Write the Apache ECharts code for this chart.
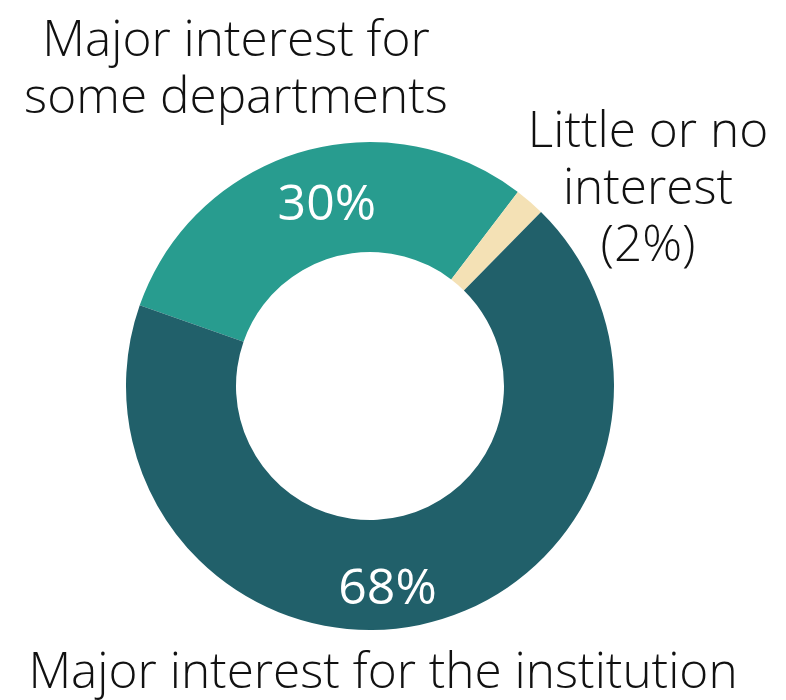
<!DOCTYPE html>
<html>
<head>
<meta charset="utf-8">
<script src="https://cdn.jsdelivr.net/npm/echarts@6/dist/echarts.min.js"></script>
<style>
  html, body { margin: 0; padding: 0; background: #ffffff; }
  #chart { width: 786px; height: 700px; }
</style>
</head>
<body>
<div id="chart"></div>
<script>
// Data
const categories = [
  'Major interest for\nsome departments',
  'Little or no\ninterest\n(2%)',
  'Major interest for the institution'
]
const shares = [30, 2, 68]
const pctLabels = ['30%', '', '68%']

// Colours
const COLORS = ['#289c8f', '#f4e1b5', '#21606a']

// label placement (anchor of each category name)
const NAME_POS = [[236, 70], [648, 190], [383, 674]]
const PCT_SHIFT = [[12, 4], [0, 0], [-26, 17]]

const FONT = '"Open Sans", "Noto Sans", sans-serif'
const CENTER = [370, 386]
const RADIUS = [134, 244]
const START = 160.7

const chart = echarts.init(document.getElementById('chart'), null, { renderer: 'canvas' })

const pieData = categories.map((name, i) => ({
  name: name,
  value: shares[i],
  itemStyle: { color: COLORS[i] }
}))

chart.setOption({
  animation: false,
  backgroundColor: '#ffffff',
  series: [
    {
      // ring + percentages
      type: 'pie',
      center: CENTER,
      radius: RADIUS,
      startAngle: START,
      clockwise: true,
      avoidLabelOverlap: false,
      silent: true,
      data: pieData,
      itemStyle: { borderWidth: 0 },
      label: {
        position: 'inside',
        color: '#ffffff',
        fontFamily: FONT,
        fontSize: 50,
        fontWeight: 500,
        formatter: (p) => pctLabels[p.dataIndex]
      },
      labelLine: { show: false },
      labelLayout: (p) => ({
        dx: PCT_SHIFT[p.dataIndex][0],
        dy: PCT_SHIFT[p.dataIndex][1]
      })
    },
    {
      // category names around the ring
      type: 'pie',
      center: CENTER,
      radius: RADIUS,
      startAngle: START,
      clockwise: true,
      avoidLabelOverlap: false,
      silent: true,
      z: 1,
      data: categories.map((name, i) => ({
        name: name,
        value: shares[i],
        itemStyle: { color: 'rgba(0,0,0,0)' }
      })),
      label: {
        position: 'outside',
        color: '#111111',
        fontFamily: FONT,
        fontSize: 49.5,
        fontWeight: 300,
        lineHeight: 57,
        align: 'center',
        formatter: '{b}'
      },
      labelLine: { show: false },
      labelLayout: (p) => ({
        x: NAME_POS[p.dataIndex][0],
        y: NAME_POS[p.dataIndex][1],
        align: 'center',
        verticalAlign: 'middle'
      })
    }
  ]
})

window.addEventListener('resize', () => chart.resize())
</script>
</body>
</html>
